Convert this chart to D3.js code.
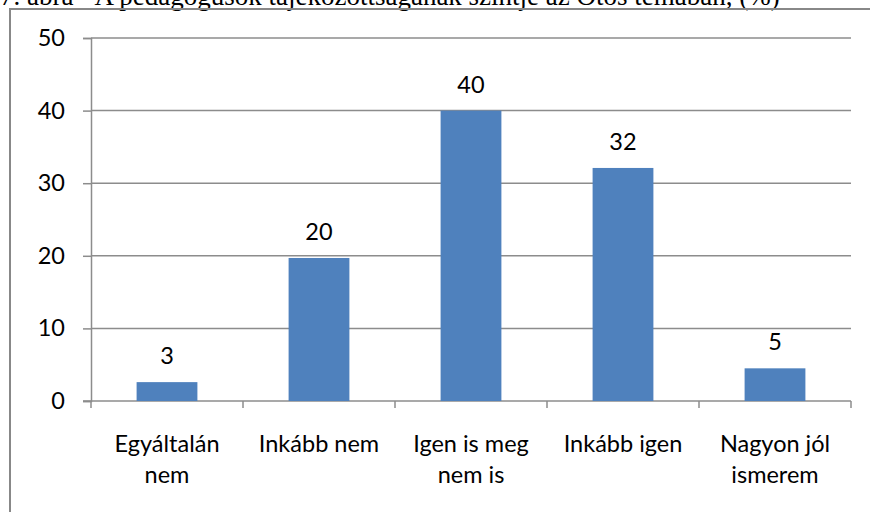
<!DOCTYPE html>
<html>
<head>
<meta charset="utf-8">
<script src="https://cdn.jsdelivr.net/npm/d3@7"></script>
<style>
  body { margin: 0; background: #fff; }
  svg { display: block; }
</style>
</head>
<body>
<div class="chart"></div>
<script>
'use strict';

var categories = [['Egyáltalán', 'nem'], ['Inkább nem'], ['Igen is meg', 'nem is'], ['Inkább igen'], ['Nagyon jól', 'ismerem']];
var values = [2.6, 19.7, 40, 32.1, 4.5];
var yTicks = [0, 10, 20, 30, 40, 50];
var title = '7. ábra - A pedagógusok tájékozottságának szintje az Ötös témában, (%)';

var W = 870, H = 512;
var margin = {top: 38, right: 19, bottom: 111, left: 91},
  width = W - margin.left - margin.right,
  height = H - margin.top - margin.bottom;

var root = d3.select('.chart').append('svg')
  .attr('width', W)
  .attr('height', H);

// caption, cut off at the top edge like in the source page
root.append('text')
  .attr('x', 0)
  .attr('y', 5)
  .attr('font-family', 'Liberation Serif')
  .attr('font-size', 27)
  .text(title);

// chart frame
root.append('rect')
  .attr('x', 10)
  .attr('y', 9)
  .attr('width', 880)
  .attr('height', 520)
  .attr('fill', 'none')
  .attr('stroke', '#888')
  .attr('stroke-width', 2);

var svg = root.append('g')
  .attr('transform', 'translate(' + margin.left + ',' + margin.top + ')');

var x = d3.scaleBand()
  .domain(d3.range(categories.length))
  .range([0, width])
  .paddingInner(0.6)
  .paddingOuter(0.3);

var y = d3.scaleLinear()
  .domain([0, 50])
  .range([height, 0]);

// gridlines
svg.selectAll('.grid')
  .data(yTicks.slice(1))
  .enter().append('line')
  .attr('x1', 0)
  .attr('x2', width)
  .attr('y1', function(d) { return y(d); })
  .attr('y2', function(d) { return y(d); })
  .attr('stroke', '#8c8c8c')
  .attr('stroke-width', 1.5);

// y axis
var yAxis = svg.append('g')
  .call(d3.axisLeft(y).tickValues(yTicks).tickSize(8).tickPadding(18));
yAxis.select('.domain').attr('stroke', '#8c8c8c').attr('stroke-width', 1.5);
yAxis.selectAll('.tick line').attr('stroke', '#8c8c8c').attr('stroke-width', 1.5);
yAxis.selectAll('text')
  .attr('font-family', 'Lato')
  .attr('font-size', 23.5)
  .attr('fill', '#000');

// x axis with ticks at band edges
var step = x.step();
var xEdges = d3.range(categories.length + 1).map(function(i) { return i * step; });
var xAxis = svg.append('g')
  .attr('transform', 'translate(0,' + height + ')');
xAxis.append('line')
  .attr('x1', -8).attr('x2', width)
  .attr('stroke', '#8c8c8c').attr('stroke-width', 1.5);
xAxis.selectAll('.xt')
  .data(xEdges)
  .enter().append('line')
  .attr('x1', function(d) { return d; })
  .attr('x2', function(d) { return d; })
  .attr('y1', 0).attr('y2', 7)
  .attr('stroke', '#8c8c8c').attr('stroke-width', 1.5);

xAxis.selectAll('.cat')
  .data(categories)
  .enter().append('text')
  .attr('text-anchor', 'middle')
  .attr('font-family', 'Lato')
  .attr('font-size', 23.5)
  .attr('transform', function(d, i) {
    return 'translate(' + (x(i) + x.bandwidth() / 2) + ',0)';
  })
  .selectAll('tspan')
  .data(function(d) { return d; })
  .enter().append('tspan')
  .attr('x', 0)
  .attr('y', function(d, j) { return 51 + j * 31; })
  .text(function(d) { return d; });

// bars
svg.selectAll('.bar')
  .data(values)
  .enter().append('rect')
  .attr('class', 'bar')
  .attr('x', function(d, i) { return x(i); })
  .attr('width', x.bandwidth())
  .attr('y', function(d) { return y(d); })
  .attr('height', function(d) { return height - y(d); })
  .attr('fill', '#4f81bd');

// value labels
svg.selectAll('.lbl')
  .data(values)
  .enter().append('text')
  .attr('text-anchor', 'middle')
  .attr('font-family', 'Lato')
  .attr('font-size', 23.5)
  .attr('x', function(d, i) { return x(i) + x.bandwidth() / 2; })
  .attr('y', function(d) { return y(d) - 18; })
  .text(function(d) { return Math.round(d); });
</script>
</body>
</html>
